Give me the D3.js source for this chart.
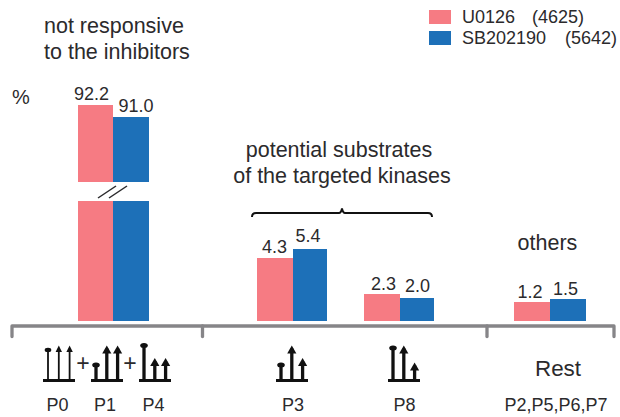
<!DOCTYPE html>
<html>
<head>
<meta charset="utf-8">
<script src="https://cdn.jsdelivr.net/npm/d3@7"></script>
<style>
    html, body { margin: 0; padding: 0; background: #fff; }
    text { font-family: "Liberation Sans", Arial, sans-serif; fill: #2b2a2c; }
</style>
</head>
<body>
<div id="chart"></div>
<script>
// Chart data
const groups = ['P0+P1+P4', 'P3', 'P8', 'Rest'];
const u0126 = [92.2, 4.3, 2.3, 1.2];
const sb202190 = [91.0, 5.4, 2.0, 1.5];
const seriesNames = ['U0126', 'SB202190'];
const seriesCounts = ['(4625)', '(5642)'];
const seriesColors = ['#f67b83', '#1d70b8'];

// Phospho-site glyphs: [stem kind, stem height level]
const glyphNames = ['P0', 'P1', 'P4', 'P3', 'P8'];
const glyphStems = [
    [['ball', 'tall'], ['arrow', 'tall'], ['arrow', 'tall']],
    [['ball', 'low'], ['arrow', 'tall'], ['arrow', 'tall']],
    [['ball', 'top'], ['arrow', 'mid'], ['arrow', 'mid']],
    [['ball', 'low'], ['arrow', 'tall'], ['arrow', 'mid']],
    [['ball', 'tall'], ['arrow', 'tall'], ['arrow', 'low']]
];

const width = 620, height = 417;
const baseY = 321, axisY = 326;

const svg = d3.select('#chart').append('svg')
    .attr('width', width)
    .attr('height', height)
    .style('display', 'block');

// The source bars are not proportional and the axis is broken, so the scale is piecewise
const y = d3.scaleLinear()
    .domain([0, 1.2, 1.5, 2.0, 2.3, 4.3, 5.4, 91.0, 92.2])
    .range([baseY, 302, 299, 298, 294, 258, 249, 117, 105]);

const groupX = d3.scaleOrdinal().domain(groups).range([78, 257, 364, 514]);
const splitX = d3.scaleOrdinal().domain(groups).range([113, 293, 400, 550]);
const endX = d3.scaleOrdinal().domain(groups).range([149, 327, 434, 586]);

// Hand placement of the value labels in the source, per series
const labelShift = [
    { dx: [-4, -0.5, 1.5, -2], dy: [5, 5, 4, 4] },
    { dx: [5, -2, 0.5, -2.5], dy: [5, 7, 6, 4] }
];

// Bars
[u0126, sb202190].forEach((values, s) => {
    const left = g => s === 0 ? groupX(g) : splitX(g);
    const right = g => s === 0 ? splitX(g) : endX(g);

    svg.append('g').selectAll('rect')
        .data(values)
        .enter().append('rect')
        .attr('x', (d, i) => left(groups[i]))
        .attr('y', d => y(d))
        .attr('width', (d, i) => right(groups[i]) - left(groups[i]))
        .attr('height', d => baseY - y(d))
        .attr('fill', seriesColors[s]);

    svg.append('g').selectAll('text')
        .data(values)
        .enter().append('text')
        .attr('x', (d, i) => (left(groups[i]) + right(groups[i])) / 2 + labelShift[s].dx[i])
        .attr('y', (d, i) => y(d) - labelShift[s].dy[i])
        .attr('text-anchor', 'middle')
        .attr('font-size', 18)
        .text(d => d.toFixed(1));
});

// Axis break
svg.append('rect')
    .attr('x', 70).attr('y', 182)
    .attr('width', 90).attr('height', 19)
    .attr('fill', '#fff');
[0, 11].forEach(dx => {
    svg.append('line')
        .attr('x1', 98 + dx).attr('y1', 198)
        .attr('x2', 116 + dx).attr('y2', 186)
        .attr('stroke', '#2b2a2c')
        .attr('stroke-width', 1.5);
});

// Category axis
svg.append('path')
    .attr('d', 'M12,336.5V326H614V336.5')
    .attr('fill', 'none')
    .attr('stroke', '#868588')
    .attr('stroke-width', 3.3)
    .attr('stroke-linecap', 'round')
    .attr('stroke-linejoin', 'round');
[202.5, 487].forEach(x => {
    svg.append('line')
        .attr('x1', x).attr('x2', x)
        .attr('y1', axisY).attr('y2', 336.5)
        .attr('stroke', '#868588')
        .attr('stroke-width', 3.3)
        .attr('stroke-linecap', 'round');
});

// Glyphs
const glyphLeft = d3.scaleOrdinal().domain(glyphNames).range([43, 91, 139, 276, 388]);
const glyphLabelX = d3.scaleOrdinal().domain(glyphNames).range([57.5, 105, 153.5, 293, 404.5]);
const stemTop = d3.scaleOrdinal().domain(['top', 'tall', 'mid', 'low']).range([343, 345.5, 358, 362.5]);
const glyphY = 380.5;

glyphNames.forEach((name, i) => {
    const left = glyphLeft(name);
    const g = svg.append('g').attr('fill', '#111').attr('stroke', '#111');
    const thin = name === 'P0';
    g.append('line')
        .attr('x1', left).attr('x2', left + 32)
        .attr('y1', glyphY).attr('y2', glyphY)
        .attr('stroke-width', 3);
    glyphStems[i].forEach((stem, k) => {
        const x = left + 5 + k * 10.8;
        const top = stemTop(stem[1]) + (thin && stem[0] === 'ball' ? 2 : 0);
        g.append('line')
            .attr('x1', x).attr('x2', x)
            .attr('y1', glyphY).attr('y2', top + 3)
            .attr('stroke-width', thin ? 1.8 : 3.3);
        if (stem[0] === 'ball') {
            g.append('ellipse')
                .attr('cx', x).attr('cy', top + 2.4)
                .attr('rx', thin ? 3.3 : 3.8).attr('ry', thin ? 2.2 : 2.5)
                .attr('stroke', 'none');
        } else {
            const w = thin ? 3.2 : 4.6;
            const h = thin ? 6.5 : 8;
            g.append('path')
                .attr('d', `M${x},${top}L${x + w},${top + h}H${x - w}Z`)
                .attr('stroke', 'none');
        }
    });
    svg.append('text')
        .attr('x', glyphLabelX(name))
        .attr('y', 411)
        .attr('text-anchor', 'middle')
        .attr('font-size', 18)
        .text(name);
});

// Plus signs between the glyphs
[83, 130].forEach(x => {
    svg.append('text')
        .attr('x', x).attr('y', 371)
        .attr('text-anchor', 'middle')
        .attr('font-size', 23)
        .text('+');
});

// Free text
const notes = [
    ['not responsive', 44, 33, 21.5, 'start'],
    ['to the inhibitors', 44, 59, 21.5, 'start'],
    ['%', 12, 104, 20, 'start'],
    ['potential substrates', 339, 157, 21.5, 'middle'],
    ['of the targeted kinases', 342, 183, 21.5, 'middle'],
    ['others', 547.5, 250, 21.5, 'middle'],
    ['Rest', 558, 376, 22.4, 'middle'],
    ['P2,P5,P6,P7', 556, 411, 18, 'middle']
];
svg.append('g').selectAll('text')
    .data(notes)
    .enter().append('text')
    .attr('x', d => d[1])
    .attr('y', d => d[2])
    .attr('font-size', d => d[3])
    .attr('text-anchor', d => d[4])
    .text(d => d[0]);

// Bracket over the P3 and P8 groups
svg.append('path')
    .attr('d', 'M252,217Q252,213 256,213H339Q341,213 342,208.5Q343,213 345,213H428Q432,213 432,217')
    .attr('fill', 'none')
    .attr('stroke', '#111')
    .attr('stroke-width', 2);

// Legend
seriesNames.forEach((name, i) => {
    const top = 10 + i * 21;
    svg.append('rect')
        .attr('x', 429).attr('y', top)
        .attr('width', 22).attr('height', 14)
        .attr('fill', seriesColors[i]);
    svg.append('text')
        .attr('x', 462).attr('y', top + 12.5)
        .attr('font-size', 18)
        .text(name);
    svg.append('text')
        .attr('x', i === 0 ? 532 : 565).attr('y', top + 12.5)
        .attr('font-size', 18)
        .text(seriesCounts[i]);
});
</script>
</body>
</html>
